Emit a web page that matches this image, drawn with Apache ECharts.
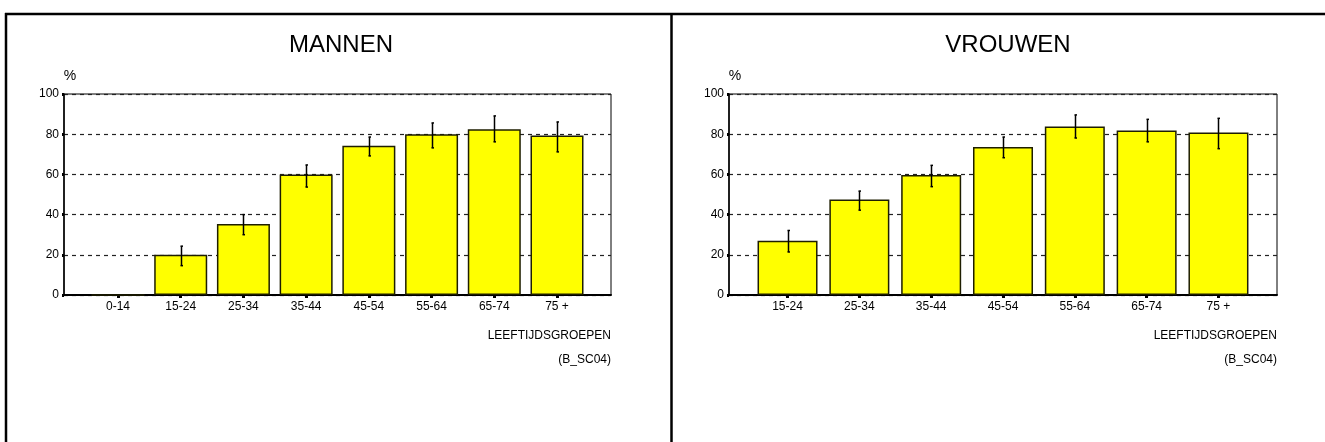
<!DOCTYPE html>
<html>
<head>
<meta charset="utf-8">
<title>LEEFTIJDSGROEPEN (B_SC04)</title>
<script src="https://cdn.jsdelivr.net/npm/echarts@6/dist/echarts.min.js"></script>
<style>
  html, body { margin: 0; padding: 0; background: #fff; }
  #chart { width: 1325px; height: 442px; }
</style>
</head>
<body>
<div id="chart"></div>
<script>
// Age groups and percentages with confidence intervals, per sex
const menCategories = ['0-14', '15-24', '25-34', '35-44', '45-54', '55-64', '65-74', '75 +'];
const menValues = [0, 20, 35.3, 60, 74.2, 80, 82.5, 79.3];
const menLow = [null, 14.6, 30, 53.7, 69.2, 73.2, 76.2, 71.2];
const menHigh = [null, 24.3, 40, 64.7, 78.6, 85.6, 89.1, 86.1];

const womenCategories = ['15-24', '25-34', '35-44', '45-54', '55-64', '65-74', '75 +'];
const womenValues = [27, 47.5, 59.7, 73.6, 83.8, 81.8, 80.8];
const womenLow = [21.4, 42.2, 53.9, 68.3, 78.1, 76.2, 72.8];
const womenHigh = [32.1, 51.7, 64.5, 78.6, 89.6, 87.4, 87.9];

const yTicks = [0, 20, 40, 60, 80, 100];
const panelTitles = ['MANNEN', 'VROUWEN'];
const axisTitle = 'LEEFTIJDSGROEPEN';
const sourceCode = '(B_SC04)';

const FONT = '"Liberation Sans", Arial, sans-serif';
const chart = echarts.init(document.getElementById('chart'), null, { renderer: 'canvas' });

function xAxisFor(cats, gridIndex, pad) {
  const idx = cats.map((c, i) => i);
  return {
    type: 'value',
    gridIndex: gridIndex,
    min: -pad,
    max: cats.length - 1 + pad,
    axisLine: { show: true, onZero: false, lineStyle: { color: '#000', width: 2 } },
    axisTick: { show: true, customValues: idx, length: 3, lineStyle: { color: '#000', width: 3 } },
    axisLabel: {
      show: true, customValues: idx, margin: 6,
      color: '#000', fontFamily: FONT, fontSize: 12,
      formatter: v => cats[Math.round(v)]
    },
    splitLine: { show: false }
  };
}

function yAxisFor(gridIndex) {
  return {
    type: 'value',
    gridIndex: gridIndex,
    min: yTicks[0],
    max: yTicks[yTicks.length - 1],
    interval: yTicks[1] - yTicks[0],
    axisLine: { show: true, onZero: false, lineStyle: { color: '#000', width: 1.5 } },
    axisTick: { show: true, length: 2, lineStyle: { color: '#000', width: 3 } },
    axisLabel: { margin: 5, color: '#000', fontFamily: FONT, fontSize: 12 },
    splitLine: { show: true, lineStyle: { color: '#222', width: 1.2, type: [4, 4] } }
  };
}

function barSeries(values, axisIndex, width) {
  return {
    type: 'bar',
    xAxisIndex: axisIndex,
    yAxisIndex: axisIndex,
    barWidth: width,
    data: values.map((v, i) => [i, v]),
    itemStyle: { color: '#ffff00', borderColor: '#1e1e00', borderWidth: 1.5 },
    z: 3
  };
}

function errorSeries(low, high, axisIndex) {
  const data = [];
  low.forEach((lo, i) => { if (lo !== null) data.push([i, lo, high[i]]); });
  return {
    type: 'custom',
    xAxisIndex: axisIndex,
    yAxisIndex: axisIndex,
    data: data,
    z: 5,
    renderItem: function (params, api) {
      const lo = api.coord([api.value(0), api.value(1)]);
      const hi = api.coord([api.value(0), api.value(2)]);
      const x = Math.round(lo[0]) + 0.5;
      const style = { stroke: '#000', lineWidth: 1.5 };
      return {
        type: 'group',
        children: [
          { type: 'line', shape: { x1: x, y1: lo[1], x2: x, y2: hi[1] }, style: style },
          { type: 'line', shape: { x1: x - 1, y1: lo[1], x2: x + 1.5, y2: lo[1] }, style: style },
          { type: 'line', shape: { x1: x - 1, y1: hi[1], x2: x + 1.5, y2: hi[1] }, style: style }
        ]
      };
    }
  };
}

const grids = [
  { left: 64, top: 94, width: 547, height: 201 },
  { left: 729, top: 94, width: 548, height: 201 }
];

function panelText(x, y, text, size, align) {
  return {
    type: 'text', x: x, y: y,
    style: { text: text, fill: '#000', font: size + 'px ' + FONT, textAlign: align, textVerticalAlign: 'middle' }
  };
}

const option = {
  animation: false,
  backgroundColor: '#fff',
  grid: grids.map(g => Object.assign({ show: true, borderColor: '#000', borderWidth: 1, backgroundColor: 'transparent' }, g)),
  title: [
    { text: panelTitles[0], left: 336, top: 28, textAlign: 'center',
      textStyle: { fontFamily: FONT, fontSize: 24, fontWeight: 'normal', color: '#000' } },
    { text: panelTitles[1], left: 1003, top: 28, textAlign: 'center',
      textStyle: { fontFamily: FONT, fontSize: 24, fontWeight: 'normal', color: '#000' } }
  ],
  xAxis: [xAxisFor(menCategories, 0, 0.861), xAxisFor(womenCategories, 1, 0.815)],
  yAxis: [yAxisFor(0), yAxisFor(1)],
  series: [
    barSeries(menValues, 0, 53),
    errorSeries(menLow, menHigh, 0),
    barSeries(womenValues, 1, 60),
    errorSeries(womenLow, womenHigh, 1)
  ],
  graphic: [
    // panel frame
    { type: 'line', shape: { x1: 5, y1: 14, x2: 1325, y2: 14 }, style: { stroke: '#000', lineWidth: 2.5 } },
    { type: 'line', shape: { x1: 6, y1: 13, x2: 6, y2: 442 }, style: { stroke: '#000', lineWidth: 2.5 } },
    { type: 'line', shape: { x1: 671.5, y1: 13, x2: 671.5, y2: 442 }, style: { stroke: '#000', lineWidth: 2.5 } },
    // axis annotations
    panelText(70, 76, '%', 14, 'center'),
    panelText(611, 336, axisTitle, 12, 'right'),
    panelText(611, 360, sourceCode, 12, 'right'),
    panelText(735, 76, '%', 14, 'center'),
    panelText(1277, 336, axisTitle, 12, 'right'),
    panelText(1277, 360, sourceCode, 12, 'right')
  ]
};

chart.setOption(option);
</script>
</body>
</html>
